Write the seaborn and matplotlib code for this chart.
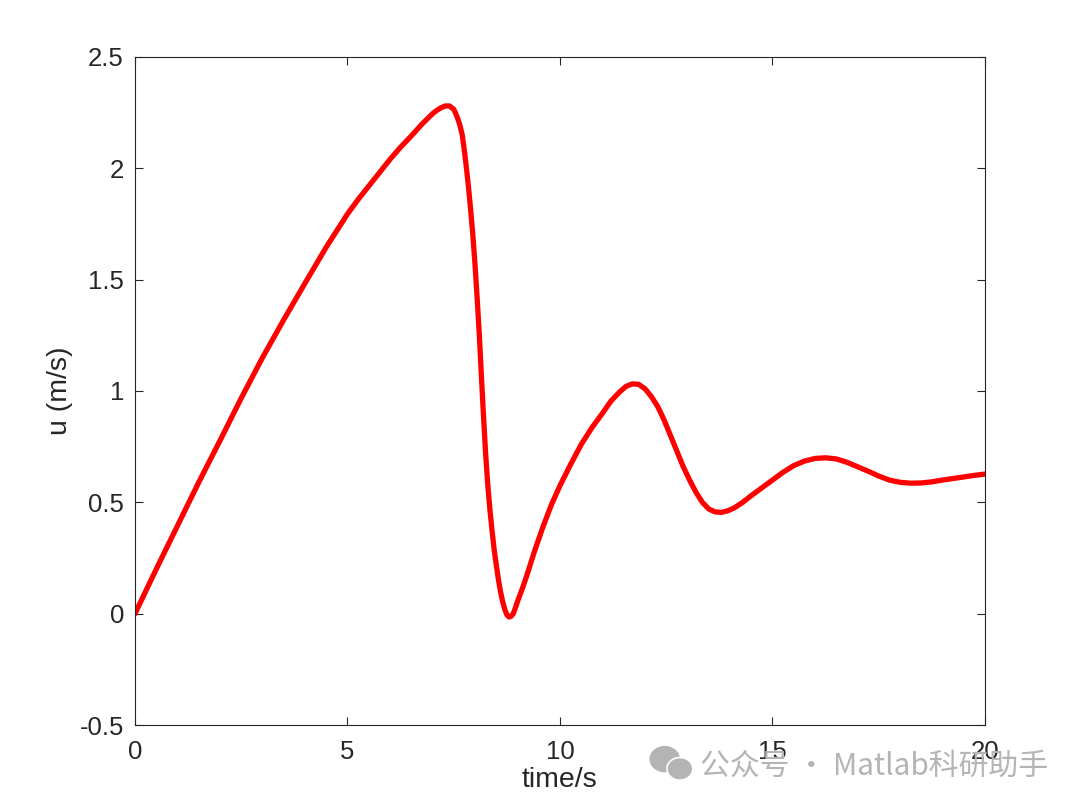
import numpy as np
import pandas as pd
import matplotlib
matplotlib.use("Agg")
import matplotlib.pyplot as plt
from matplotlib.patches import Ellipse
import seaborn as sns

# values
time_s = [0.0, 0.5, 1.0, 1.5, 2.0, 2.5, 3.0, 3.5, 4.0, 4.5, 5.0, 5.25, 5.5,
          5.75, 6.0, 6.25, 6.5, 6.75, 7.0, 7.1, 7.2, 7.3, 7.4, 7.5, 7.55, 7.6,
          7.65, 7.7, 7.75, 7.8, 7.85, 7.9, 7.95, 8.0, 8.05, 8.1, 8.15, 8.2,
          8.25, 8.3, 8.35, 8.4, 8.45, 8.5, 8.55, 8.6, 8.65, 8.7, 8.75, 8.8,
          8.85, 8.9, 8.95, 9.0, 9.1, 9.2, 9.4, 9.6, 9.8, 10.0, 10.25, 10.5,
          10.75, 11.0, 11.2, 11.4, 11.55, 11.7, 11.85, 12.0, 12.15, 12.3,
          12.45, 12.6, 12.75, 12.9, 13.05, 13.2, 13.35, 13.5, 13.65, 13.8,
          13.95, 14.1, 14.3, 14.5, 14.75, 15.0, 15.25, 15.5, 15.75, 16.0,
          16.25, 16.5, 16.75, 17.0, 17.25, 17.5, 17.75, 18.0, 18.25, 18.5,
          18.75, 19.0, 19.25, 19.5, 19.75, 20.0]
u_ms = [0.0, 0.20, 0.395, 0.59, 0.777, 0.968, 1.15, 1.32, 1.484, 1.646, 1.795,
        1.86, 1.92, 1.98, 2.04, 2.095, 2.145, 2.198, 2.245, 2.26, 2.272, 2.28,
        2.28, 2.265, 2.245, 2.22, 2.19, 2.15, 2.08, 2.0, 1.91, 1.81, 1.70,
        1.57, 1.42, 1.26, 1.07, 0.89, 0.72, 0.58, 0.47, 0.375, 0.29, 0.22,
        0.155, 0.10, 0.055, 0.02, -0.005, -0.015, -0.012, 0.0, 0.025, 0.055,
        0.105, 0.16, 0.28, 0.39, 0.49, 0.575, 0.67, 0.76, 0.835, 0.90, 0.955,
        0.995, 1.02, 1.032, 1.03, 1.01, 0.975, 0.93, 0.87, 0.80, 0.73, 0.66,
        0.60, 0.545, 0.50, 0.47, 0.457, 0.455, 0.462, 0.475, 0.50, 0.53,
        0.565, 0.60, 0.635, 0.665, 0.685, 0.697, 0.70, 0.695, 0.68, 0.66,
        0.64, 0.618, 0.60, 0.59, 0.586, 0.587, 0.592, 0.60, 0.607, 0.614,
        0.621, 0.627]

x_ticks = [0, 5, 10, 15, 20]
y_ticks = [-0.5, 0, 0.5, 1, 1.5, 2, 2.5]
y_ticklabels = ["-0.5", "0", "0.5", "1", "1.5", "2", "2.5"]

df = pd.DataFrame({"t": time_s, "u": u_ms})

sns.set_theme(style="white")
plt.rcParams['font.family'] = ['Liberation Sans', 'DejaVu Sans']

fig = plt.figure(figsize=(10.8, 8.08), dpi=100)
ax = fig.add_axes([0.125, 0.1027, 0.787, 0.8268])

sns.lineplot(data=df, x="t", y="u", color="#ff0000", linewidth=3.8,
             sort=False, ax=ax, solid_capstyle="round", solid_joinstyle="round")

ax.set_xlim(0, 20)
ax.set_ylim(-0.5, 2.5)
ax.set_xticks(x_ticks)
ax.set_xticklabels([str(v) for v in x_ticks])
ax.set_yticks(y_ticks)
ax.set_yticklabels(y_ticklabels)
ax.set_xlabel("time/s", fontsize=20.5, color="#262626", labelpad=2)
ax.set_ylabel("u (m/s)", fontsize=20.5, color="#262626", labelpad=5)

ax.tick_params(axis="both", direction="in", length=6, width=0.8,
               colors="#262626", labelsize=18.5, top=True, right=True,
               bottom=True, left=True)
ax.tick_params(axis="x", pad=11)
ax.tick_params(axis="y", pad=8)
for side in ax.spines.values():
    side.set_visible(True)
    side.set_color("#262626")
    side.set_linewidth(0.8)

# watermark
wm = "#b4b4b4"
fig.patches.append(Ellipse((0.6155, 0.0605), 0.027, 0.031, transform=fig.transFigure,
                           color=wm, zorder=5))
fig.patches.append(Ellipse((0.6295, 0.0485), 0.024, 0.028, transform=fig.transFigure,
                           color=wm, ec="white", lw=1.2, zorder=6))
fig.text(0.648, 0.052, "公众号 · Matlab科研助手", fontsize=21.5, color=wm,
         family=['Noto Sans CJK SC', 'DejaVu Sans'], va="center", ha="left")

fig.savefig("out.png", dpi=100)
